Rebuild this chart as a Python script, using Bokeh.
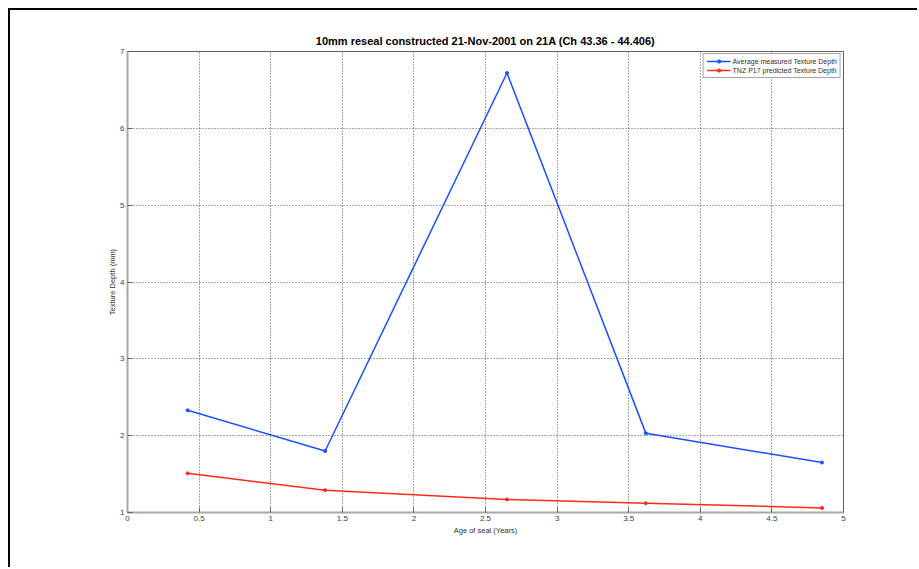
from bokeh.plotting import figure
from bokeh.models import FixedTicker, Range1d, Legend, LegendItem
from bokeh.embed import file_html
from bokeh.resources import INLINE

age_years = [0.42, 1.38, 2.65, 3.62, 4.85]
measured_depth = [2.33, 1.80, 6.72, 2.03, 1.65]
predicted_depth = [1.51, 1.29, 1.17, 1.12, 1.06]
x_ticks = [0, 0.5, 1, 1.5, 2, 2.5, 3, 3.5, 4, 4.5, 5]
x_tick_labels = ["0", "0.5", "1", "1.5", "2", "2.5", "3", "3.5", "4", "4.5", "5"]
y_ticks = [1, 2, 3, 4, 5, 6, 7]

FONT = "Liberation Sans"

p = figure(width=909, height=559, output_backend="svg", toolbar_location=None,
           x_range=Range1d(0, 5), y_range=Range1d(1, 7),
           min_border_left=117, min_border_right=76, min_border_top=41, min_border_bottom=57,
           title="10mm reseal constructed 21-Nov-2001 on 21A (Ch 43.36 - 44.406)")
p.styles = {"border-left": "2px solid black", "border-top": "2px solid black",
            "margin-left": "8px", "margin-top": "8px"}

p.title.text_font = FONT
p.title.text_font_size = "11px"
p.title.text_font_style = "bold"
p.title.align = "center"
p.title.text_color = "black"
p.title.standoff = 9

p.outline_line_color = "#606060"
p.outline_line_width = 1
p.background_fill_color = "white"
p.border_fill_color = "white"

for ax in (p.xaxis[0], p.yaxis[0]):
    ax.axis_line_color = "#a8a8a8"
    ax.axis_line_width = 2
    ax.major_tick_in = 5
    ax.major_tick_out = 0
    ax.major_tick_line_color = "#606060"
    ax.minor_tick_line_color = None
    ax.major_label_text_font = FONT
    ax.major_label_text_font_size = "8px"
    ax.major_label_text_color = "#404040"
    ax.axis_label_text_font = FONT
    ax.axis_label_text_font_size = "7.5px"
    ax.axis_label_text_font_style = "normal"
    ax.axis_label_text_color = "#303030"

p.xaxis[0].ticker = FixedTicker(ticks=x_ticks)
p.xaxis[0].major_label_overrides = {t: l for t, l in zip(x_ticks, x_tick_labels)}
p.xaxis[0].axis_label = "Age of seal (Years)"
p.xaxis[0].axis_label_standoff = 2
p.xaxis[0].major_label_standoff = 3
p.yaxis[0].ticker = FixedTicker(ticks=y_ticks)
p.yaxis[0].axis_label = "Texture Depth (mm)"
p.yaxis[0].axis_label_standoff = 0
p.yaxis[0].major_label_standoff = 3

p.xgrid.ticker = FixedTicker(ticks=x_ticks)
p.ygrid.ticker = FixedTicker(ticks=y_ticks)
for g in (p.xgrid[0], p.ygrid[0]):
    g.grid_line_color = "#505050"
    g.grid_line_dash = "1 2"
    g.grid_line_width = 1

blue = "#1a4fff"
red = "#ff2a1a"
l1 = p.line(age_years, measured_depth, line_color=blue, line_width=1.5)
s1 = p.scatter(age_years, measured_depth, color=blue, size=3)
l2 = p.line(age_years, predicted_depth, line_color=red, line_width=1.5)
s2 = p.scatter(age_years, predicted_depth, color=red, size=3)

legend = Legend(items=[LegendItem(label="Average measured Texture Depth", renderers=[l1, s1]),
                       LegendItem(label="TNZ P17 predicted Texture Depth", renderers=[l2, s2])],
                location="top_right")
legend.label_text_font = FONT
legend.label_text_font_size = "7px"
legend.label_text_color = "#303030"
legend.label_height = 8
legend.glyph_height = 8
legend.glyph_width = 24
legend.label_standoff = 2
legend.spacing = 1
legend.padding = 3
legend.margin = 2
legend.border_line_color = "#505050"
legend.border_line_width = 1
legend.background_fill_alpha = 1
p.add_layout(legend)

open("out.html", "w").write(file_html(p, INLINE))
